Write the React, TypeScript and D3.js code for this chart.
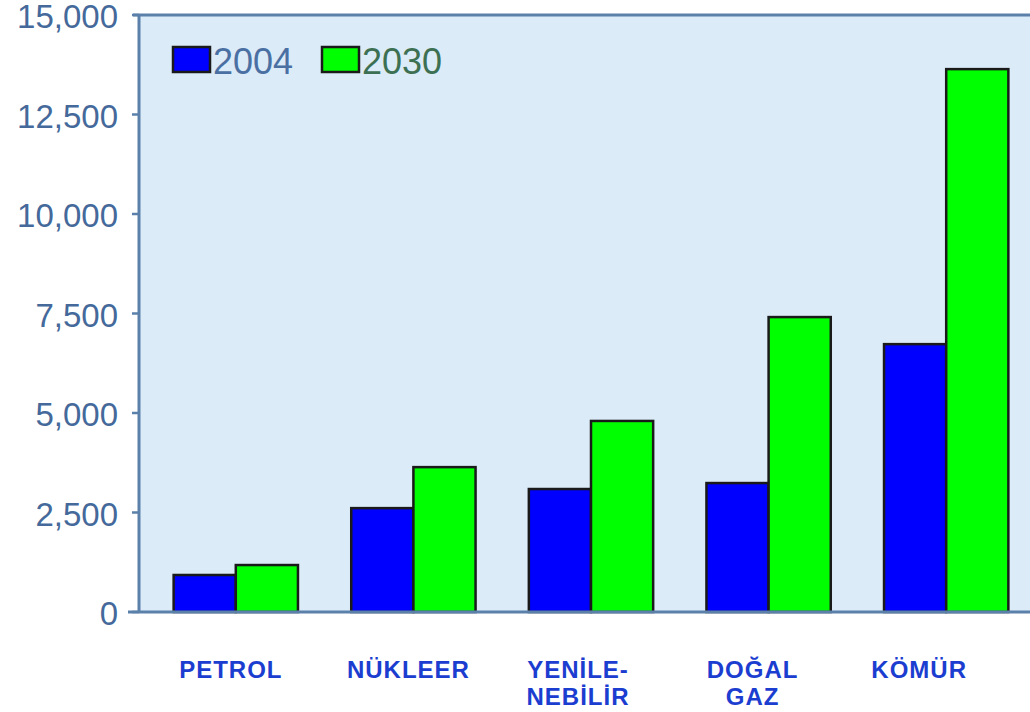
import React from "react";
import * as d3 from "d3";

const categories = ["PETROL", "NÜKLEER", "YENİLE-\nNEBİLİR", "DOĞAL\nGAZ", "KÖMÜR"];
const values2004 = [930, 2610, 3090, 3240, 6730];
const values2030 = [1180, 3640, 4800, 7410, 13640];
const yTicks = [0, 2500, 5000, 7500, 10000, 12500, 15000];
const seriesNames = ["2004", "2030"];

const W = 1030;
const H = 712;
const axisColor = "#5b80aa";
const plotLeft = 139;
const plotRight = 1030;
const plotTop = 15;
const plotBottom = 612;
const labelDx = [-5, -5, -13, -16, -27];

export default function App() {
  const x = d3
    .scaleBand<string>()
    .domain(categories)
    .range([147, 1035])
    .paddingInner(0.3)
    .paddingOuter(0.15);
  const y = d3.scaleLinear().domain([0, 15000]).range([plotBottom, plotTop]);
  const bw = x.bandwidth() / 2;
  const fmt = d3.format(",");
  const font = "'Liberation Sans', Arial, sans-serif";

  return (
    <svg
      width={W}
      height={H}
      style={{ position: "absolute", left: 0, top: 0, background: "#fff" }}
    >
      <rect
        x={plotLeft}
        y={plotTop}
        width={plotRight - plotLeft}
        height={plotBottom - plotTop}
        fill="#dbebf8"
      />
      {/* bars */}
      {categories.map((c, i) => {
        const x0 = x(c)!;
        return (
          <g key={c}>
            <rect
              x={x0}
              y={y(values2004[i])}
              width={bw}
              height={plotBottom - y(values2004[i])}
              fill="#0000ff"
              stroke="#1a1a1a"
              strokeWidth={2.5}
            />
            <rect
              x={x0 + bw}
              y={y(values2030[i])}
              width={bw}
              height={plotBottom - y(values2030[i])}
              fill="#00ff00"
              stroke="#1a1a1a"
              strokeWidth={2.5}
            />
          </g>
        );
      })}
      {/* axes */}
      <line x1={133} x2={plotRight} y1={plotTop} y2={plotTop} stroke={axisColor} strokeWidth={3} />
      <line x1={plotLeft} x2={plotLeft} y1={plotTop} y2={plotBottom} stroke={axisColor} strokeWidth={3} />
      <line x1={128} x2={plotRight} y1={plotBottom} y2={plotBottom} stroke={axisColor} strokeWidth={3} />
      {yTicks.map((t) => (
        <g key={t}>
          <line x1={132} x2={plotLeft} y1={y(t)} y2={y(t)} stroke={axisColor} strokeWidth={2.5} />
          <text
            x={118}
            y={y(t) + 13}
            textAnchor="end"
            fontFamily={font}
            fontSize={33}
            fill="#44699a"
          >
            {fmt(t)}
          </text>
        </g>
      ))}
      {/* category labels */}
      {categories.map((c, i) => {
        const cx = x(c)! + x.bandwidth() / 2 + labelDx[i];
        const lines = c.split("\n");
        return (
          <text
            key={c}
            x={cx}
            y={678}
            textAnchor="middle"
            fontFamily={font}
            fontWeight="bold"
            fontSize={24}
            letterSpacing={1}
            fill="#1b3dd0"
          >
            {lines.map((l, j) => (
              <tspan key={j} x={cx} dy={j === 0 ? 0 : 27}>
                {l}
              </tspan>
            ))}
          </text>
        );
      })}
      {/* legend */}
      <rect x={173} y={47} width={37} height={25} fill="#0000ff" stroke="#1a1a1a" strokeWidth={2.5} />
      <text x={213} y={74} fontFamily={font} fontSize={36} fill="#4a70a3">
        {seriesNames[0]}
      </text>
      <rect x={322} y={47} width={37} height={25} fill="#00ff00" stroke="#1a1a1a" strokeWidth={2.5} />
      <text x={362} y={74} fontFamily={font} fontSize={36} fill="#3d7052">
        {seriesNames[1]}
      </text>
    </svg>
  );
}
